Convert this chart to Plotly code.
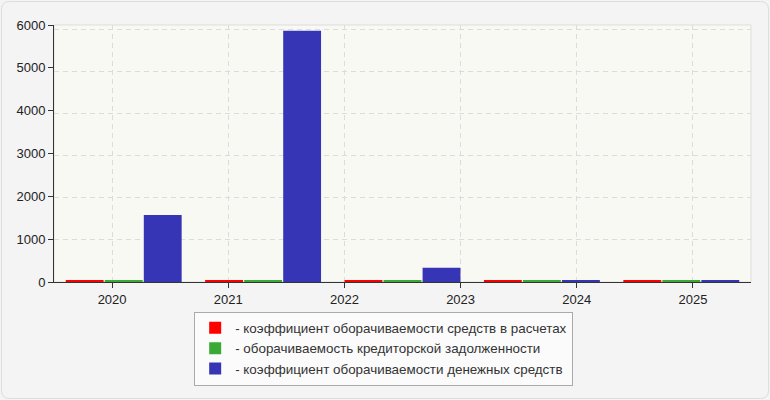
import plotly.graph_objects as go

# ---- data ----
years = ["2020", "2021", "2022", "2023", "2024", "2025"]
periods = ["1", "2", "3", "4", "5"]
series_names = [
    "- коэффициент оборачиваемости средств в расчетах",
    "- оборачиваемость кредиторской задолженности",
    "- коэффициент оборачиваемости денежных средств",
]
red_vals = [35, 35, 35, 35, 35]
green_vals = [35, 35, 35, 35, 35]
blue_vals = [1565, 5865, 335, 30, 30]
colors = ["#ff0000", "#3aaa35", "#3635b5"]

W, H = 770, 400
L, R, T, B = 54, 19, 25, 118
pw, ph = W - L - R, H - T - B

fig = go.Figure()
for name, vals, col in zip(series_names, [red_vals, green_vals, blue_vals], colors):
    fig.add_trace(go.Bar(x=periods, y=vals, name=name,
                         marker=dict(color=col, line=dict(width=0)),
                         xaxis="x", yaxis="y"))

# invisible trace carrying the year labels / grid axes
fig.add_trace(go.Scatter(x=years, y=[0] * len(years), xaxis="x2", yaxis="y2",
                         mode="markers", marker=dict(opacity=0),
                         showlegend=False, hoverinfo="skip"))

def px2paper(x, y):
    return (x - L) / pw, (H - B - y) / ph

# rounded outer border
r = 8
x0, y0, x1, y1 = 1.5, 1.5, W - 1.5, H - 1.5
def P(x, y):
    a, b = px2paper(x, y)
    return f"{a:.5f},{b:.5f}"
path = (f"M {P(x0 + r, y0)} L {P(x1 - r, y0)} Q {P(x1, y0)} {P(x1, y0 + r)} "
        f"L {P(x1, y1 - r)} Q {P(x1, y1)} {P(x1 - r, y1)} "
        f"L {P(x0 + r, y1)} Q {P(x0, y1)} {P(x0, y1 - r)} "
        f"L {P(x0, y0 + r)} Q {P(x0, y0)} {P(x0 + r, y0)} Z")

fig.update_layout(
    width=W, height=H,
    margin=dict(l=L, r=R, t=T, b=B),
    paper_bgcolor="#f4f4f4",
    plot_bgcolor="#f9f9f3",
    font=dict(family="Liberation Sans, Arial, sans-serif", size=13, color="#222"),
    barmode="group",
    bargap=0.16,
    bargroupgap=0.03,
    xaxis=dict(type="category", range=[-0.5, 4.5], visible=False, fixedrange=True),
    xaxis2=dict(type="category", overlaying="x", side="bottom", range=[-0.5, 5.5],
                showgrid=True, gridcolor="#dcdcdc", griddash="5px,4px", gridwidth=1,
                ticks="outside", ticklen=5, tickcolor="#333",
                showline=True, linecolor="#333", linewidth=1,
                tickfont=dict(size=13, color="#222"), zeroline=False),
    yaxis=dict(range=[0, 6000], dtick=1000, showgrid=False, zeroline=False,
               ticks="outside", ticklen=5, tickcolor="#333",
               showline=True, linecolor="#333", linewidth=1,
               tickfont=dict(size=13, color="#222")),
    yaxis2=dict(overlaying="y", range=[0, 6110], dtick=1000, showgrid=True,
                gridcolor="#dcdcdc", griddash="5px,4px", gridwidth=1,
                showticklabels=False, ticks="", showline=False, zeroline=False),
    legend=dict(x=0.473, xanchor="center", y=-0.115, yanchor="top",
                bgcolor="#fbfbfb", bordercolor="#aaaaaa", borderwidth=1,
                font=dict(size=13.4, color="#333"), tracegroupgap=0,
                itemclick=False),
    shapes=[
        dict(type="rect", xref="paper", yref="paper", x0=0, y0=0, x1=1, y1=1,
             line=dict(color="#dddddd", width=1), layer="below"),
        dict(type="path", xref="paper", yref="paper", path=path,
             line=dict(color="#dddddd", width=1), layer="below"),
    ],
    showlegend=True,
)

fig.write_html("out.html", config={"displayModeBar": False},
               post_script="document.body.style.margin='0';document.body.style.overflow='hidden';")
